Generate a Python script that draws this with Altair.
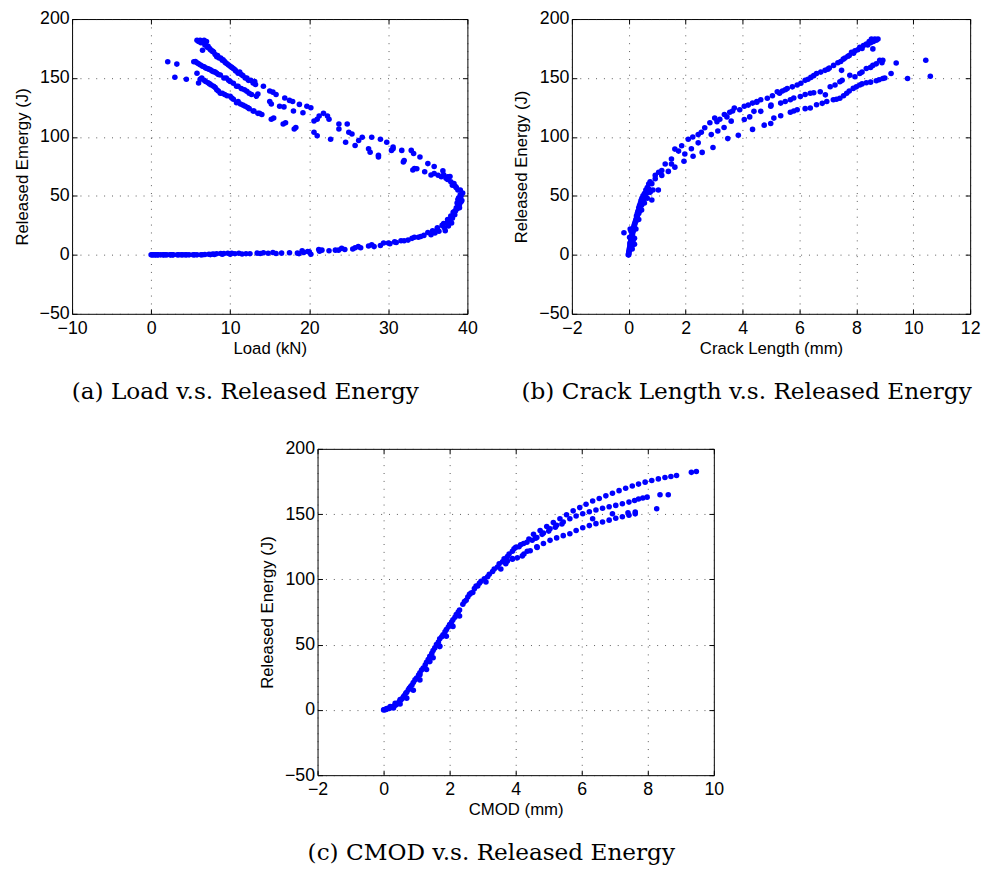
import altair as alt
import pandas as pd

# ---------------- (a) Load v.s. Released Energy ----------------
a_rise_load = [0.0, 0.3, 0.6, 0.9, 1.2, 1.6, 2.0, 2.4, 2.8, 3.3, 3.8, 4.3, 4.8, 5.3, 5.8, 6.3,
               6.8, 7.3, 7.8, 8.3, 8.8, 9.2, 9.7, 10.2, 10.6, 11.1, 12.5, 13.4, 14.2, 15.4, 17.5,
               18.7, 19.1, 20.0, 20.2, 21.2, 21.6, 23.3, 24.1, 25.8, 26.2, 27.9, 29.4, 30.2, 30.8,
               31.6, 32.5, 33.3, 34.1, 35.0, 35.6, 36.2, 37.0, 37.6, 38.0, 38.3, 38.5, 38.8, 39.0,
               38.9, 39.1]
a_rise_E = [0, 0, 0, 0, 0, 0, 0, 0, 0, 0, 0, 0, 0, 0, 0, 0,
            0.3, 0.5, 0.8, 1.0, 1.2, 1.2, 1.3, 1.3, 1.0, 1.4, 1.0, 1.5, 1.8, 2.0, 1.8,
            1.0, 3.5, 2.5, 0.5, 4.6, 4.0, 4.0, 5.5, 6.0, 7.0, 8.5, 10.0, 9.5, 11.0,
            12.0, 12.5, 15.0, 15.5, 19.0, 20.5, 22.0, 26.5, 29.0, 32.0, 35.0, 37.5, 41.0, 43.0,
            48.5, 51.0]
a_rise2_load = [0.15, 0.5, 0.8, 1.5, 1.8, 2.5, 2.7, 3.5, 4.0, 4.5, 5.5, 6.5, 7.5, 8.0, 9.0, 10.0,
                11.5, 12.0, 13.8, 14.8, 15.8, 16.5, 18.5, 19.3, 19.8, 21.3, 22.5, 23.7, 24.5,
                25.5, 26.5, 27.5, 28.2, 29.0, 30.0, 31.0, 32.0, 33.0, 33.8, 34.5, 35.4, 35.9,
                36.4, 37.1, 37.4, 37.8, 38.1, 38.4, 38.7, 38.8]
a_rise2_E = [0, 0, 0, 0, 0, 0, 0, 0, 0, 0, 0, 0.1, 0.2, 0.4, 0.5, 0.6,
             0.8, 1.0, 1.1, 1.3, 1.2, 1.5, 1.5, 2.0, 2.8, 3.0, 3.5, 4.0, 4.5,
             5.0, 6.0, 7.5, 7.0, 8.0, 10.0, 10.5, 12.0, 14.0, 15.0, 16.5, 17.0, 18.5,
             20.0, 23.0, 27.0, 30.0, 31.0, 37.0, 44.0, 47.0]
a_nose_load = [39.4, 39.2, 39.0, 38.8, 38.5, 38.3, 37.9, 37.3, 36.7, 35.8, 36.9, 38.6, 38.2,
               37.9, 37.5, 36.8, 36.2, 38.9, 38.7, 38.4, 38.0, 37.6, 37.2, 39.0, 39.3, 39.2,
               39.1, 38.6, 38.1, 37.5, 36.3, 37.0, 37.8]
a_nose_E = [52.4, 45.0, 48.0, 55.0, 58.0, 60.5, 62.0, 65.0, 66.3, 69.0, 71.3, 40.0, 36.0,
            33.0, 30.0, 25.0, 23.0, 42.0, 39.0, 34.0, 27.0, 24.5, 20.5, 40.0, 46.0, 50.0,
            55.0, 57.0, 59.0, 64.0, 67.5, 68.0, 66.5]
a_top_load = [5.8, 6.2, 6.5, 6.7, 7.0, 6.5, 7.1, 7.4, 7.7, 7.9, 8.3, 8.6, 9.0, 9.3, 9.6, 10.0,
              10.4, 10.7, 11.0, 11.4, 11.9, 12.3, 12.9, 13.1, 14.2, 15.0, 15.4, 15.8, 16.9, 17.5,
              17.9, 18.75, 19.7, 20.2, 21.25, 21.8, 22.3, 23.75, 24.8, 25.4, 26.7, 27.9, 29.0,
              29.8, 30.6, 31.7, 32.9, 33.2, 34.0, 35.0, 35.8, 37.5,
              6.0, 6.3, 6.8, 7.2, 7.5, 7.8, 8.1, 8.4, 8.8, 9.1, 9.4, 9.8, 10.2, 10.6, 11.2, 11.6,
              12.1, 12.6, 13.0, 13.2]
a_top_E = [182, 182, 181, 182, 181, 173.5, 176, 175, 173, 172, 168, 167, 165, 164, 162, 160,
           158, 156, 154, 153, 150, 148, 145.7, 147, 143, 139, 138, 136, 133, 131,
           130, 127.6, 126, 124.8, 117.8, 120, 117.8, 111, 111, 102.5, 99.7, 99.7, 98,
           95.5, 91.4, 88.6, 88.6, 86, 83, 77.4, 75, 66.3,
           181, 180, 178, 177, 174, 172.5, 170, 169, 167, 165.5, 163, 161, 159, 157, 155, 152,
           150, 148, 146, 144.5]
a_mid_load = [5.4, 5.8, 6.25, 6.7, 7.1, 7.5, 7.9, 8.3, 8.75, 9.2, 10.0, 10.4, 10.8, 11.4, 12.1,
              12.7, 13.3, 13.5, 15.0, 15.2, 16.25, 16.8, 18.0, 19.2, 20.6, 21.0, 22.5, 23.75,
              25.0, 26.25, 27.5, 28.75, 30.4, 30.6, 32.0, 33.3, 34.6, 35.4,
              5.6, 6.0, 6.5, 6.9, 7.3, 7.7, 8.1, 8.5, 9.5, 9.8, 11.0, 11.8, 12.4]
a_mid_E = [163.8, 163, 161, 159.5, 158, 157, 155.4, 154, 152.6, 150, 147, 145.5, 143, 141, 138.7,
           136, 134.5, 136.5, 130, 128, 126, 125.5, 122, 120.6, 113.6, 115, 115, 106.7,
           104, 97, 90, 84.4, 88.6, 90, 80, 73.3, 70.5, 67.7,
           164, 162, 160, 158.5, 157.5, 156, 155, 153, 150, 148, 143, 140, 137]
a_bot_load = [5.8, 6.0, 6.4, 6.9, 7.4, 7.9, 8.3, 8.75, 9.3, 10.0, 10.4, 10.8, 11.3, 11.9, 12.4,
              12.9, 13.5, 14.0, 15.2, 15.5, 16.7, 17.0, 18.1, 18.3, 20.6, 21.0, 22.7, 24.6, 25.8,
              27.7, 28.75, 31.9, 33.1, 33.6,
              6.2, 6.7, 7.2, 7.6, 8.1, 8.5, 9.0, 9.6, 10.2, 11.0, 11.6, 12.2, 13.0, 13.7]
a_bot_E = [154, 145.7, 150, 147, 145, 143, 140, 137, 136, 134.5, 132, 129, 128, 126, 124,
           122, 120, 119, 115, 116, 111, 112, 106.7, 108, 104, 101, 98, 95.5, 92.8,
           87, 83, 78.8, 71.9, 73,
           149, 148, 146, 144, 142, 139, 137, 135, 133, 130, 127, 125, 122, 120]
a_out_load = [2.1, 3.25, 3.0, 4.45]
a_out_E = [163.8, 161.8, 150.7, 149.0]

# ---------------- (b) Crack Length v.s. Released Energy ----------------
b_init_x = [0.0, 0.0, 0.02, 0.03, 0.05, 0.04, 0.08, 0.06, 0.1, 0.12, 0.1, 0.15, 0.17, 0.2, 0.22,
            0.26, 0.28, 0.3, 0.35, 0.38, 0.4, 0.45, 0.49, 0.52, 0.58, 0.62, -0.17, 0.05, 0.12, 0.2,
            0.0, 0.01, 0.02, 0.04, 0.05, 0.07, 0.09, 0.1, 0.13, 0.14, 0.16, 0.18, 0.2, 0.23, 0.25,
            0.27, 0.3, 0.32, 0.35, 0.38, 0.41, 0.43, 0.46, 0.5, 0.55, 0.6, 0.65, 0.7, 0.75, 0.08,
            0.03, 0.15, 0.25, 0.35, 0.45, 0.55, 0.65, 0.75, 0.85, 0.12, 0.2, -0.02]
b_init_E = [0, 2, 4, 6, 8, 10, 12, 14, 16, 18, 21, 20, 23, 25, 27,
            29, 31, 33, 35, 37, 39, 42, 45, 47, 50, 52, 18.7, 22, 8, 14,
            1, 3, 5, 7, 9, 11, 13, 15, 17, 19, 22, 24, 26, 28, 30,
            33, 35, 37, 40, 42, 44, 46, 48, 50, 52, 55, 57, 60, 62, 20,
            15, 12, 22, 30, 38, 44, 48, 53, 55, 5, 9, 0]
b_top_x = [0.7, 0.81, 0.93, 1.05, 1.16, 1.28, 1.5, 1.62, 1.75, 1.86, 2.09, 2.25, 2.44, 2.55, 2.67,
           2.85, 3.02, 3.2, 3.36, 3.55, 3.71, 3.9, 4.06, 4.2, 4.35, 4.5, 4.64, 4.87, 5.05, 5.22,
           5.4, 5.57, 5.75, 5.92, 6.05, 6.2, 6.4, 6.6, 6.75, 6.9, 7.05, 7.2, 7.35, 7.54, 7.7,
           7.83, 7.95, 8.12, 8.25, 8.35, 8.45, 8.53, 8.65, 8.76, 8.58,
           3.1, 3.45, 3.65, 4.5, 5.3, 5.5, 6.3, 6.5, 7.0, 7.45, 7.6, 7.75, 7.9, 8.05, 8.2, 8.4,
           8.5, 8.6, 8.7]
b_top_E = [56, 60.4, 67.4, 70, 71.6, 77, 81.3, 89.7, 88, 92.5, 98, 100, 102, 104, 107.8,
           112, 116, 115, 119, 121, 124.5, 123, 126, 127, 128.7, 130, 131.5, 132.9, 135, 138.4,
           139, 141, 142.5, 144, 145.5, 148, 150.5, 153.8, 155, 156.5, 158.5, 160.7, 163, 166, 168.5,
           171.9, 173, 176, 177.5, 178.8, 181, 183, 183, 183, 174.7,
           113, 117, 122, 129.5, 137, 140, 149, 152, 157.5, 164, 167, 169, 171, 174, 175, 178,
           180, 181, 182]
b_mid_x = [0.93, 1.16, 1.5, 1.97, 2.2, 2.44, 2.9, 3.13, 3.35, 3.6, 4.06, 4.25, 4.4, 4.64, 4.99,
           5.34, 5.68, 6.03, 6.2, 6.38, 6.73, 7.08, 7.25, 7.42, 7.77, 7.95, 8.12, 8.35, 8.58,
           8.82, 8.93, 9.4, 7.48, 5.0, 5.5, 5.8, 6.5, 7.5, 8.2, 8.5, 8.7, 8.9]
b_mid_E = [64.6, 67.4, 77, 85.5, 90, 95, 102, 105, 108, 113.4, 114.8, 117, 121.7, 121.7, 126,
           128.7, 131.5, 134.3, 136, 137, 138.4, 142.6, 144, 146.8, 152.4, 151, 153.8, 158, 160.7,
           165, 165, 162.7, 156.5, 127, 130, 133, 137.5, 148, 155, 159, 162, 163]
b_bot_x = [0.81, 1.04, 1.39, 1.62, 1.94, 2.26, 2.58, 2.96, 3.48, 3.85, 4.35, 4.76, 4.99, 5.1,
           5.34, 5.68, 5.92, 6.38, 6.6, 6.96, 7.19, 7.42, 7.66, 7.89, 8.12, 8.35, 8.7, 8.93, 9.22,
           9.8, 10.44, 10.6, 6.91, 5.8, 6.2, 6.8, 7.3, 7.55, 7.75, 8.0, 8.2, 8.5, 8.8, 9.0]
b_bot_E = [46.5, 55, 70.8, 74.4, 79.4, 83.6, 86.9, 91, 98.6, 101.4, 106.4, 110, 111.4, 116,
           118, 121, 123, 124.5, 127.3, 130, 131.5, 132.9, 137, 141.2, 144, 146, 147.6, 149.6, 153.8,
           149.6, 165, 151.5, 135.7, 122, 124, 128.5, 132, 135, 139, 142.5, 145, 146.5, 148.5, 150]

# ---------------- (c) CMOD v.s. Released Energy ----------------
c_main_x = [0.0, 0.03, 0.07, 0.1, 0.15, 0.22, 0.28, 0.37, 0.45, 0.52, 0.6, 0.67, 0.75, 0.86, 0.95,
            1.06, 1.15, 1.26, 1.35, 1.46, 1.55, 1.66, 1.76, 1.86, 1.96, 2.06, 2.16, 2.26, 2.4, 2.55,
            2.65, 2.75, 2.9, 3.05, 3.2, 3.35, 3.5, 3.65, 3.8, 3.95, 0.2, 0.35, 0.5, 0.8, 1.1, 1.4,
            1.7, 2.5, 2.85, 3.1]
c_main_E = [0, 0.3, 0.5, 1.0, 1.3, 1.8, 2.5, 3.8, 5.5, 7.6, 10, 12.7, 15.5, 19, 23,
            26.7, 30.5, 34.4, 38.5, 43.3, 47.5, 52, 56, 59.8, 63.5, 67.4, 71, 75, 81, 86.5,
            89.5, 92.9, 97, 100.5, 104, 108, 112, 115.8, 119.5, 123.4, 2.5, 5, 8, 17, 27, 37,
            49, 84, 95, 98]
c_main2_x = [0.05, 0.12, 0.18, 0.25, 0.32, 0.4, 0.48, 0.56, 0.63, 0.7, 0.78, 0.82, 0.9, 1.0, 1.1,
             1.2, 1.3, 1.4, 1.5, 1.6, 1.7, 1.8, 1.9, 2.0, 2.1, 2.2, 2.3, 2.45, 2.6, 2.7, 2.8,
             2.95, 3.15, 3.3, 3.45, 3.6, 3.75, 3.9, 4.0, 4.15, 3.55, 3.7, 3.9, 4.2, 4.35, 4.65,
             0.3, 0.5, 0.7, 0.9, 1.1, 1.3, 1.5, 1.7, 1.9, 2.1, 2.3]
c_main2_E = [0.2, 0.8, 1.2, 2.0, 3.0, 4.5, 6.5, 8.5, 11, 13.5, 16.5, 18, 21, 24.5, 28.5,
             32, 36.5, 41, 45.5, 50, 54.5, 57.5, 61.5, 65.5, 69, 73, 76.5, 83, 88.5, 90, 95,
             98.5, 102, 106, 109.5, 113.5, 117.5, 121.5, 124.5, 126.5, 108, 112, 116, 118, 121.5, 124.5,
             1.5, 4.5, 9, 15, 23, 31, 40, 48.5, 56.5, 64, 72]
c_top_x = [4.1, 4.24, 4.4, 4.54, 4.74, 4.94, 5.14, 5.34, 5.54, 5.74, 5.94, 6.13, 6.33, 6.53, 6.73,
           6.93, 7.13, 7.33, 7.53, 7.72, 7.92, 8.12, 8.32, 8.52, 8.7, 8.87, 9.32, 9.47,
           4.6, 4.8, 5.0, 5.2, 5.4]
c_top_E = [125, 127.5, 131, 134.5, 137.5, 140.5, 143.5, 146.5, 149.5, 152.5, 155, 157.5, 160, 162,
           164, 166, 168, 169.8, 171.5, 173, 174.5, 175.8, 177, 178, 178.8, 179.6, 182, 182.7,
           131.5, 134.5, 137, 140, 142.5]
c_mid_x = [4.34, 4.5, 4.64, 4.84, 5.04, 5.24, 5.44, 5.64, 5.83, 6.03, 6.23, 6.43, 6.63, 6.83, 7.03,
           7.23, 7.43, 7.6, 7.72, 7.85, 7.98, 8.37, 8.62, 8.27, 6.33, 6.93]
c_mid_E = [128.5, 130, 132, 135.5, 138.8, 141.5, 144, 146.5, 148.5, 150.3, 151.8, 153.2, 154.5,
           155.6, 156.7, 158, 159.2, 160.5, 161.6, 162.3, 163, 164.8, 164.8, 154.1, 146.5, 150.3]
c_bot_x = [3.75, 3.9, 4.05, 4.25, 4.44, 4.64, 4.84, 5.04, 5.24, 5.44, 5.64, 5.83, 6.03, 6.23,
           6.43, 6.63, 6.83, 7.03, 7.23, 7.43, 7.62, 7.62, 7.4]
c_bot_E = [114, 115.5, 116.5, 119.5, 122, 125, 127.5, 129.9, 131.8, 133.5, 135, 137.5, 139.5,
           141.2, 142.7, 144, 145.4, 146.8, 148, 149.2, 150.2, 151.6, 151]

# ticks
y_ticks = [-50, 0, 50, 100, 150, 200]
a_xticks = [-10, 0, 10, 20, 30, 40]
b_xticks = [-2, 0, 2, 4, 6, 8, 10, 12]
c_xticks = [-2, 0, 2, 4, 6, 8, 10]

BLUE = "#0000ff"
TICK = 5


def panel(xs, ys, xdom, xticks, xtitle, ytitle, caption, w, h):
    df = pd.DataFrame({"x": xs, "y": ys})
    xsc = alt.Scale(domain=xdom, nice=False, zero=False)
    ysc = alt.Scale(domain=[-50, 200], nice=False, zero=False)
    pts = alt.Chart(df).mark_circle(size=32, color=BLUE, opacity=1).encode(
        x=alt.X("x:Q", scale=xsc, axis=alt.Axis(
            orient="bottom", values=xticks, format="d", title=xtitle, grid=True,
            offset=-TICK, tickSize=TICK, labelPadding=6, titlePadding=3,
            labelFlush=False, labelOverlap=False)),
        y=alt.Y("y:Q", scale=ysc, axis=alt.Axis(
            orient="left", values=y_ticks, format="d", title=ytitle, grid=True,
            offset=-TICK, tickSize=TICK, labelPadding=3, titlePadding=8,
            labelFlush=False, labelOverlap=False)),
    )
    inner = alt.Chart(df).mark_circle(size=1, opacity=0).encode(
        x=alt.X("x:Q", scale=xsc, axis=alt.Axis(
            orient="top", values=xticks, labels=False, title=None, grid=False,
            offset=-TICK, tickSize=TICK)),
        y=alt.Y("y:Q", scale=ysc, axis=alt.Axis(
            orient="right", values=y_ticks, labels=False, title=None, grid=False,
            offset=-TICK, tickSize=TICK)),
    )
    return alt.layer(pts, inner).resolve_axis(x="independent", y="independent").properties(
        width=w, height=h,
        title=alt.TitleParams(caption, orient="bottom", anchor="middle", frame="bounds", offset=24),
    )


pa = panel(a_rise_load + a_rise2_load + a_nose_load + a_top_load + a_mid_load + a_bot_load + a_out_load,
           a_rise_E + a_rise2_E + a_nose_E + a_top_E + a_mid_E + a_bot_E + a_out_E,
           [-10, 40], a_xticks, "Load (kN)", "Released Emergy (J)",
           "(a) Load v.s. Released Energy", 401, 299)
pb = panel(b_init_x + b_top_x + b_mid_x + b_bot_x,
           b_init_E + b_top_E + b_mid_E + b_bot_E,
           [-2, 12], b_xticks, "Crack Length (mm)", "Released Energy (J)",
           "(b) Crack Length v.s. Released Energy", 404, 299)
pc = panel(c_main_x + c_main2_x + c_top_x + c_mid_x + c_bot_x,
           c_main_E + c_main2_E + c_top_E + c_mid_E + c_bot_E,
           [-2, 10], c_xticks, "CMOD (mm)", "Released Energy (J)",
           "(c) CMOD v.s. Released Energy", 402, 331)

spacer = alt.Chart(pd.DataFrame({"v": [0]})).mark_point(opacity=0).properties(
    width=187, height=10, view=alt.ViewBackground(stroke="transparent"))

top = alt.hconcat(pa, pb, spacing=34)
bottom = alt.hconcat(spacer, pc, spacing=0)

chart = alt.vconcat(top, bottom, spacing=36).properties(
    padding={"left": 4, "top": -5, "right": 0, "bottom": 0}
).configure_axis(
    labelFont="Liberation Sans", labelFontSize=18, labelColor="black",
    titleFont="Liberation Sans", titleFontSize=17, titleFontWeight="normal", titleColor="black",
    tickColor="black", tickWidth=1, domain=False,
    gridColor="#222222", gridOpacity=0.75, gridDash=[1, 7], gridWidth=1,
).configure_view(
    stroke="black", strokeWidth=1
).configure_title(
    font="DejaVu Serif", fontSize=23.5, fontWeight="normal", color="black"
)

chart.save("out.html", embed_options={"renderer": "svg", "actions": False})
